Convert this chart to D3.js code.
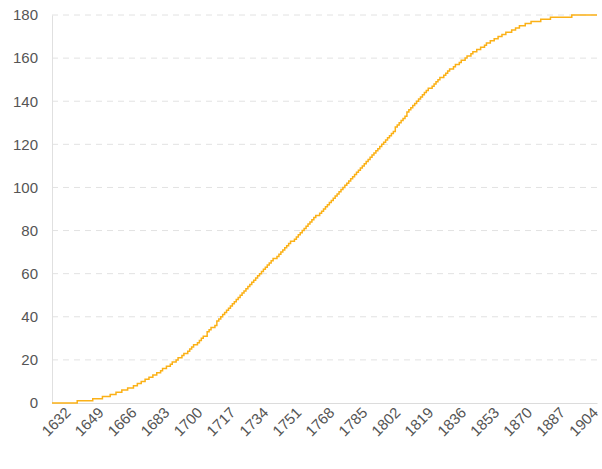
<!DOCTYPE html>
<html>
<head>
<meta charset="utf-8">
<script src="https://cdn.jsdelivr.net/npm/d3@7"></script>
<style>
  body { margin: 0; background: #fff; }
  text { font-family: "Helvetica Neue", Arial, "Liberation Sans", sans-serif; }
</style>
</head>
<body>
<div id="chart"></div>
<script>
const years = d3.range(1632, 1914);
const counts = [
  0,0,0,0,0,0,0,0,0,0,
  0,0,0,1,1,1,1,1,1,1,
  1,2,2,2,2,2,3,3,3,3,
  4,4,4,5,5,5,6,6,6,7,
  7,7,8,8,9,9,10,10,11,11,
  12,12,13,13,14,14,15,16,16,17,
  17,18,19,19,20,21,21,22,23,23,
  24,25,26,27,27,28,29,30,31,31,
  33,34,35,35,36,38,39,40,41,42,
  43,44,45,46,47,48,49,50,51,52,
  53,54,55,56,57,58,59,60,61,62,
  63,64,65,66,67,67,68,69,70,71,
  72,73,74,75,75,76,77,78,79,80,
  81,82,83,84,85,86,87,87,88,89,
  90,91,92,93,94,95,96,97,98,99,
  100,101,102,103,104,105,106,107,108,109,
  110,111,112,113,114,115,116,117,118,119,
  120,121,122,123,124,125,126,128,129,130,
  131,132,133,135,136,137,138,139,140,141,
  142,143,144,145,146,146,147,148,149,150,
  151,151,152,153,154,155,155,156,157,157,
  158,159,159,160,161,161,162,163,163,164,
  164,165,165,166,167,167,168,168,169,169,
  170,170,171,171,172,172,172,173,173,174,
  174,175,175,175,176,176,176,177,177,177,
  177,177,178,178,178,178,178,179,179,179,
  179,179,179,179,179,179,179,179,180,180,
  180,180,180,180,180,180,180,180,180,180,
  180,180
];
const yTicks = [0, 20, 40, 60, 80, 100, 120, 140, 160, 180];
const xTickYears = years.filter((y, i) => i % 17 === 0);

const width = 602, height = 469;
const margin = { top: 15, right: 5, bottom: 66, left: 52 };

const svg = d3.select('#chart').append('svg')
  .attr('width', width)
  .attr('height', height);

const x = d3.scalePoint()
  .domain(years)
  .range([margin.left, width - margin.right]);

const y = d3.scaleLinear()
  .domain([0, 180])
  .range([height - margin.bottom, margin.top]);

// grid
svg.append('g')
  .selectAll('line')
  .data(yTicks.filter(d => d > 0))
  .enter()
  .append('line')
  .attr('x1', margin.left)
  .attr('x2', width - margin.right)
  .attr('y1', d => y(d))
  .attr('y2', d => y(d))
  .attr('stroke', '#e2e2e2')
  .attr('stroke-dasharray', '6,5');

const yAxis = svg.append('g')
  .attr('transform', `translate(${margin.left},0)`)
  .call(d3.axisLeft(y).tickValues(yTicks).tickSize(0).tickPadding(14));
yAxis.select('.domain').attr('stroke', '#e0e0e0');
yAxis.selectAll('text').attr('fill', '#555').style('font-size', '15px');

const xAxis = svg.append('g')
  .attr('transform', `translate(0,${height - margin.bottom})`)
  .call(d3.axisBottom(x).tickValues(xTickYears).tickSize(0).tickPadding(12));
xAxis.select('.domain').attr('stroke', '#dcdcdc');
xAxis.selectAll('text')
  .attr('fill', '#555')
  .style('font-size', '15px')
  .attr('text-anchor', 'end')
  .attr('dx', '0.4em')
  .attr('dy', '0.6em')
  .attr('transform', 'rotate(-45)');

const line = d3.line()
  .x((d, i) => x(years[i]))
  .y(d => y(d))
  .curve(d3.curveStepAfter);

svg.append('path')
  .datum(counts)
  .attr('fill', 'none')
  .attr('stroke', '#fbb117')
  .attr('stroke-width', 1.5)
  .attr('d', line);
</script>
</body>
</html>
